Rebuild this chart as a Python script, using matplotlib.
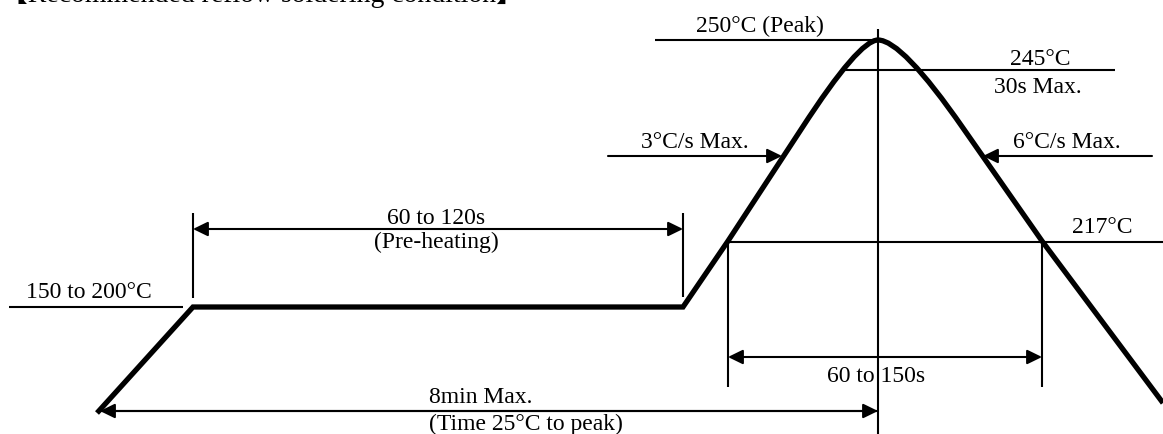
import matplotlib
matplotlib.use('Agg')
import matplotlib.pyplot as plt
from matplotlib.path import Path
from matplotlib.patches import PathPatch

# diagram coordinates (x = time axis, y = height from the top, like the drawing)
# heating part of the profile: start, end of ramp, end of soak, 217 crossing, shoulder
profile_x = [97, 193, 683, 728, 802]
profile_y = [413, 307, 307, 241, 128]
# peak: bezier points after the left shoulder (control, peak, control, right shoulder)
peak_x = [859, 878, 902, 963]
peak_y = [40, 40, 40, 128]
# cooling part
cool_x = [1042, 1163]
cool_y = [241, 403]

# reference levels
y_peak, y_245, y_217, y_soak = 40, 70, 242, 307
x_peak = 878
x_217_left, x_217_right = 728, 1042
x_soak_left, x_soak_right = 193, 683

labels = {
    'title': '【Recommended reflow soldering condition】',
    'peak': '250°C (Peak)',
    't245': '245°C',
    't30': '30s Max.',
    'up': '3°C/s Max.',
    'down': '6°C/s Max.',
    'soak': '150 to 200°C',
    'pre1': '60 to 120s',
    'pre2': '(Pre-heating)',
    't217': '217°C',
    'liq': '60 to 150s',
    'tot1': '8min Max.',
    'tot2': '(Time 25°C to peak)',
}

plt.rcParams['font.family'] = ['Liberation Serif', 'Noto Sans CJK JP']
fs = 17

fig = plt.figure(figsize=(11.63, 4.34), dpi=100)
ax = fig.add_axes([0, 0, 1, 1])
ax.set_xlim(0, 1163)
ax.set_ylim(434, 0)
ax.axis('off')

thin = 1.5
thick = 3.8

# profile as one path so the joins stay clean
verts = list(zip(profile_x, profile_y)) + list(zip(peak_x, peak_y)) + list(zip(cool_x, cool_y))
codes = ([Path.MOVETO] + [Path.LINETO] * (len(profile_x) - 1)
         + [Path.CURVE3] * len(peak_x) + [Path.LINETO] * len(cool_x))
ax.add_patch(PathPatch(Path(verts, codes), fill=False, lw=thick, color='black',
                       joinstyle='miter', capstyle='butt'))


def line(xs, ys):
    ax.plot(xs, ys, color='black', lw=thin, solid_capstyle='butt')


def arrow(x0, y0, x1, y1, style='-|>'):
    ax.annotate('', xy=(x1, y1), xytext=(x0, y0),
                arrowprops=dict(arrowstyle=style + ',head_length=0.45,head_width=0.22',
                                mutation_scale=20, lw=thin, color='black',
                                shrinkA=0, shrinkB=0))


def text(x, y, s, ha='center', size=fs):
    ax.text(x, y, s, ha=ha, va='baseline', fontsize=size, color='black')


# vertical centre line through the peak
line([x_peak, x_peak], [29, 434])

# peak and 245 lines
line([655, x_peak], [y_peak, y_peak])
text(760, 32, labels['peak'])
line([843, 1115], [y_245, y_245])
text(1040, 65, labels['t245'])
text(1038, 93, labels['t30'])

# ramp rates
arrow(608, 156, 782, 156)
text(695, 148, labels['up'])
arrow(1152, 156, 983, 156)
text(1067, 148, labels['down'])

# soak
line([9, 183], [y_soak, y_soak])
text(89, 298, labels['soak'])
line([x_soak_left, x_soak_left], [213, 298])
line([x_soak_right, x_soak_right], [213, 297])
arrow(x_soak_left, 229, x_soak_right, 229, style='<|-|>')
text(436, 224, labels['pre1'])
text(436, 248, labels['pre2'])

# liquidus
line([x_217_left, 1163], [y_217, y_217])
text(1102, 233, labels['t217'])
line([x_217_left, x_217_left], [y_217, 387])
line([x_217_right, x_217_right], [y_217, 387])
arrow(x_217_left, 357, x_217_right, 357, style='<|-|>')
text(876, 382, labels['liq'])

# total time
arrow(x_peak, 411, 100, 411)
arrow(100, 411, x_peak, 411)
text(429, 403, labels['tot1'], ha='left')
text(429, 430, labels['tot2'], ha='left')

# title clipped at the top edge, as in the source image
text(0, 2, labels['title'], ha='left', size=20)

fig.savefig('out.png', dpi=100)
